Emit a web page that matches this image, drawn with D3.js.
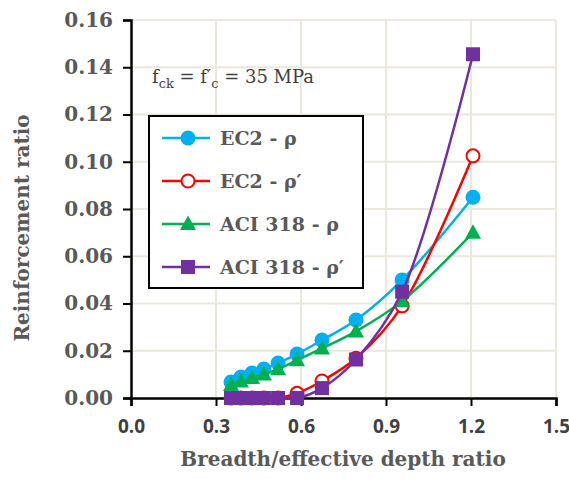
<!DOCTYPE html>
<html>
<head>
<meta charset="utf-8">
<script src="https://cdn.jsdelivr.net/npm/d3@7"></script>
<style>
body { margin: 0; background: #fff; }
</style>
</head>
<body>
<svg id="chart" width="569" height="479"></svg>
<script>
// breadth/effective depth ratios (b/d)
var ratios = [0.353, 0.388, 0.427, 0.469, 0.519, 0.586, 0.674, 0.794, 0.957, 1.207];

// reinforcement ratios
var ec2Rho      = [0.0068, 0.0089, 0.0106, 0.0123, 0.0148, 0.0186, 0.0245, 0.033, 0.050, 0.085];
var ec2RhoP     = [0, 0, 0, 0, 0, 0.0020, 0.0072, 0.0168, 0.039, 0.1025];
var aciRho      = [0.0055, 0.0070, 0.0085, 0.0100, 0.0122, 0.0160, 0.0210, 0.0282, 0.041, 0.0700];
var aciRhoP     = [0, 0, 0, 0, 0, 0, 0.0042, 0.0163, 0.045, 0.1455];

var xTicks = [0, 0.3, 0.6, 0.9, 1.2, 1.5];
var yTicks = [0, 0.02, 0.04, 0.06, 0.08, 0.10, 0.12, 0.14, 0.16];

var seriesNames = ["EC2 - ρ", "EC2 - ρ′", "ACI 318 - ρ", "ACI 318 - ρ′"];

var series = [
  { name: seriesNames[0], values: ec2Rho,  color: "#00b0f0", marker: "circle" },
  { name: seriesNames[1], values: ec2RhoP, color: "#ff0000", marker: "open" },
  { name: seriesNames[2], values: aciRho,  color: "#00b050", marker: "triangle" },
  { name: seriesNames[3], values: aciRhoP, color: "#7030a0", marker: "square" }
];

var svg = d3.select("#chart");

var x = d3.scaleLinear().domain([0, 1.5]).range([131, 556]);
var y = d3.scaleLinear().domain([0, 0.16]).range([398, 20]);

// gridlines
svg.append("g").selectAll("line").data(yTicks.slice(1)).enter().append("line")
  .attr("x1", x(0)).attr("x2", x(1.5))
  .attr("y1", d => y(d)).attr("y2", d => y(d))
  .style("stroke", "#ebe7dc").style("stroke-width", 2);
svg.append("g").selectAll("line").data(xTicks.slice(1)).enter().append("line")
  .attr("x1", d => x(d)).attr("x2", d => x(d))
  .attr("y1", y(0)).attr("y2", y(0.16))
  .style("stroke", "#ebe7dc").style("stroke-width", 2);

// axes
var xAxis = svg.append("g").attr("transform", "translate(0," + y(0) + ")")
  .call(d3.axisBottom(x).tickValues(xTicks).tickFormat(d3.format(".1f")).tickSizeOuter(0).tickSize(8).tickPadding(14));
var yAxis = svg.append("g").attr("transform", "translate(" + x(0) + ",0)")
  .call(d3.axisLeft(y).tickValues(yTicks).tickFormat(d3.format(".2f")).tickSizeOuter(0).tickSize(8).tickPadding(10));

[xAxis, yAxis].forEach(function (a) {
  a.select(".domain").style("stroke", "#000").style("stroke-width", 2.5);
  a.selectAll(".tick line").style("stroke", "#000").style("stroke-width", 2);
});
xAxis.selectAll("text")
  .style("font-family", "'Open Sans', sans-serif").style("font-weight", "bold")
  .style("font-size", "19px").style("fill", "#404040");
yAxis.selectAll("text")
  .style("font-family", "'DejaVu Serif', serif").style("font-weight", "bold")
  .style("font-size", "20px").style("fill", "#595959");

// axis titles
svg.append("text")
  .attr("x", 343).attr("y", 466)
  .attr("text-anchor", "middle")
  .style("font-family", "'DejaVu Serif', serif").style("font-weight", "bold")
  .style("font-size", "20px").style("fill", "#595959")
  .text("Breadth/effective depth ratio");
svg.append("text")
  .attr("transform", "translate(29,228) rotate(-90)")
  .attr("text-anchor", "middle")
  .style("font-family", "'DejaVu Serif', serif").style("font-weight", "bold")
  .style("font-size", "20px").style("fill", "#595959")
  .text("Reinforcement ratio");

// markers
function drawMarker(g, s, cx, cy) {
  if (s.marker === "circle") {
    g.append("circle").attr("cx", cx).attr("cy", cy).attr("r", 7.5).style("fill", s.color);
  } else if (s.marker === "open") {
    g.append("circle").attr("cx", cx).attr("cy", cy).attr("r", 6.5)
      .style("fill", "#fff").style("stroke", s.color).style("stroke-width", 2);
  } else if (s.marker === "triangle") {
    g.append("path").attr("transform", "translate(" + cx + "," + cy + ")")
      .attr("d", "M0,-8.5L8,6L-8,6Z").style("fill", s.color);
  } else {
    g.append("rect").attr("x", cx - 7).attr("y", cy - 7).attr("width", 14).attr("height", 14)
      .style("fill", s.color);
  }
}

var line = d3.line().curve(d3.curveCatmullRom.alpha(0.5))
  .x((d, i) => x(ratios[i])).y(d => y(d));

series.forEach(function (s) {
  var g = svg.append("g");
  g.append("path").datum(s.values).attr("d", line)
    .style("fill", "none").style("stroke", s.color).style("stroke-width", 2.5);
  s.values.forEach(function (v, i) { drawMarker(g, s, x(ratios[i]), y(v)); });
});

// annotation
var ann = svg.append("text").attr("x", 152).attr("y", 83)
  .style("font-family", "'DejaVu Serif', serif").style("font-size", "18px").style("fill", "#404040");
ann.append("tspan").text("f");
ann.append("tspan").attr("dy", 5).style("font-size", "13px").text("ck");
ann.append("tspan").attr("dy", -5).text(" = f′");
ann.append("tspan").attr("dy", 5).style("font-size", "13px").text("c");
ann.append("tspan").attr("dy", -5).text(" =  35 MPa");

// legend
var legend = svg.append("g");
legend.append("rect").attr("x", 149).attr("y", 116).attr("width", 214).attr("height", 172)
  .style("fill", "#fff").style("stroke", "#000").style("stroke-width", 2);
series.forEach(function (s, i) {
  var ly = 138 + i * 43;
  legend.append("line").attr("x1", 162).attr("x2", 210).attr("y1", ly).attr("y2", ly)
    .style("stroke", s.color).style("stroke-width", 2.5);
  drawMarker(legend, s, 188, ly);
  legend.append("text").attr("x", 220).attr("y", ly + 7)
    .style("font-family", "'DejaVu Serif', serif").style("font-weight", "bold")
    .style("font-size", "19px").style("fill", "#595959")
    .text(s.name);
});
</script>
</body>
</html>
